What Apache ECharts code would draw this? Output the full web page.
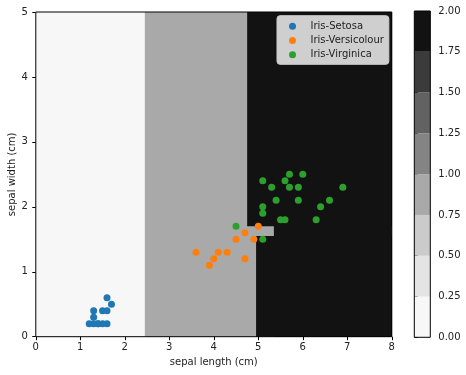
<!DOCTYPE html>
<html><head><meta charset="utf-8">
<script src="https://cdn.jsdelivr.net/npm/echarts@6/dist/echarts.min.js"></script>
<style>html,body{margin:0;padding:0;background:#fff}#c{width:466px;height:375px}</style>
</head><body><div id="c"></div>
<script>
// Decision regions: [x0, x1, y0, y1, class] (later rects drawn over earlier ones)
const regionX0 = [0, 2.45, 4.75, 4.95, 5.35];
const regionX1 = [2.45, 8, 8, 8, 8];
const regionY0 = [0, 0, 1.7, 0, 0];
const regionY1 = [5, 5, 5, 1.55, 5];
const regionClass = [0, 1, 2, 2, 2];

// colour levels (contour levels 0..2 step 0.25)
const levelEdges = [0, 0.25, 0.5, 0.75, 1.0, 1.25, 1.5, 1.75, 2.0];
const levelColors = ['#f7f7f7','#e4e4e4','#cbcbcb','#a9a9a9','#848484','#626262','#3b3b3b','#121212'];
const classColors = ['#f7f7f7', '#a9a9a9', '#121212'];

const setosa = [[1.6,0.6],[1.7,0.5],[1.3,0.4],[1.5,0.4],[1.6,0.4],[1.3,0.3],
  [1.2,0.2],[1.3,0.2],[1.4,0.2],[1.5,0.2],[1.6,0.2],[1.4,0.2]];
const versicolour = [[5.0,1.7],[4.7,1.6],[4.5,1.5],[4.9,1.5],[3.6,1.3],[4.1,1.3],
  [4.3,1.3],[4.0,1.2],[3.9,1.1],[4.7,1.2]];
const virginica = [[5.7,2.5],[6.0,2.5],[5.1,2.4],[5.6,2.4],[5.3,2.3],[5.7,2.3],[5.9,2.3],
  [6.9,2.3],[5.4,2.1],[5.9,2.1],[6.6,2.1],[6.4,2.0],[5.1,2.0],[5.1,1.9],[5.5,1.8],
  [5.6,1.8],[6.3,1.8],[4.5,1.7],[5.1,1.5]];

const seriesNames = ['Iris-Setosa','Iris-Versicolour','Iris-Virginica'];
const xLimits = [0, 8];
const yLimits = [0, 5];
const cbarLimits = [0, 2];
const xLabel = 'sepal length (cm)';
const yLabel = 'sepal width (cm)';

const FONT = 'DejaVu Sans';
const regionData = regionX0.map((x0, i) => [x0, regionX1[i], regionY0[i], regionY1[i], regionClass[i]]);
const levelData = levelColors.map((c, i) => [0, 1, levelEdges[i], levelEdges[i+1], i]);

function rectItem(params, api, fill, stroke) {
  const p0 = api.coord([api.value(0), api.value(2)]);
  const p1 = api.coord([api.value(1), api.value(3)]);
  return {
    type: 'rect',
    shape: {x: Math.min(p0[0], p1[0]), y: Math.min(p0[1], p1[1]),
            width: Math.abs(p1[0]-p0[0]), height: Math.abs(p1[1]-p0[1])},
    style: stroke ? {fill: 'none', stroke: stroke, lineWidth: 1} : {fill: fill, stroke: null}
  };
}

const chart = echarts.init(document.getElementById('c'), null, {renderer: 'canvas'});
const tickLabel = {color: '#222', fontSize: 10, fontFamily: FONT};
chart.setOption({
  animation: false,
  textStyle: {fontFamily: FONT},
  grid: [
    {left: 35.8, right: 74.2, top: 12, bottom: 38.3, containLabel: false, outerBoundsMode: 'none'},
    {left: 414.3, width: 16, top: 11, bottom: 37.7, containLabel: false, outerBoundsMode: 'none'}
  ],
  xAxis: [
    {type: 'value', gridIndex: 0, min: xLimits[0], max: xLimits[1], interval: 1,
     name: xLabel, nameLocation: 'middle', nameGap: 21, nameMoveOverlap: false,
     nameTextStyle: {color: '#222', fontSize: 10, fontFamily: FONT},
     axisLine: {show: false}, axisTick: {show: true, length: 3.5, lineStyle: {color: '#000'}},
     axisLabel: Object.assign({margin: 6}, tickLabel), splitLine: {show: false}},
    {type: 'value', gridIndex: 1, min: 0, max: 1, show: false}
  ],
  yAxis: [
    {type: 'value', gridIndex: 0, min: yLimits[0], max: yLimits[1], interval: 1,
     name: yLabel, nameLocation: 'middle', nameGap: 18, nameMoveOverlap: false,
     nameTextStyle: {color: '#222', fontSize: 10, fontFamily: FONT},
     axisLine: {show: false}, axisTick: {show: true, length: 3.5, lineStyle: {color: '#000'}},
     axisLabel: Object.assign({margin: 8}, tickLabel), splitLine: {show: false}},
    {type: 'value', gridIndex: 1, min: cbarLimits[0], max: cbarLimits[1], interval: 0.25, position: 'right',
     axisLine: {show: false}, axisTick: {show: true, length: 3.5, lineStyle: {color: '#000'}},
     axisLabel: Object.assign({margin: 8, formatter: v => v.toFixed(2)}, tickLabel),
     splitLine: {show: false}}
  ],
  legend: {
    data: seriesNames, orient: 'vertical', left: 277, top: 15.7,
    backgroundColor: 'rgba(255,255,255,0.8)', borderColor: '#cccccc', borderWidth: 1, borderRadius: 3,
    padding: [4, 5, 3, 12], itemWidth: 20, itemHeight: 7, itemGap: 1.3, icon: 'circle',
    textStyle: {fontSize: 10, color: '#222', fontFamily: FONT, lineHeight: 13, padding: [0,0,0,3]}
  },
  series: [
    {type: 'custom', name: 'regions', xAxisIndex: 0, yAxisIndex: 0, z: 1, silent: true,
     data: regionData, renderItem: (p, api) => rectItem(p, api, classColors[api.value(4)])},
    {type: 'custom', name: 'frame', xAxisIndex: 0, yAxisIndex: 0, z: 10, silent: true,
     data: [[xLimits[0], xLimits[1], yLimits[0], yLimits[1]]],
     renderItem: (p, api) => rectItem(p, api, null, '#000')},
    {type: 'scatter', name: seriesNames[0], data: setosa, symbolSize: 7, z: 5,
     itemStyle: {color: '#1f77b4', opacity: 1}},
    {type: 'scatter', name: seriesNames[1], data: versicolour, symbolSize: 7, z: 5,
     itemStyle: {color: '#ff7f0e', opacity: 1}},
    {type: 'scatter', name: seriesNames[2], data: virginica, symbolSize: 7, z: 5,
     itemStyle: {color: '#2ca02c', opacity: 1}},
    {type: 'custom', name: 'cbar', xAxisIndex: 1, yAxisIndex: 1, z: 1, silent: true,
     data: levelData, renderItem: (p, api) => rectItem(p, api, levelColors[api.value(4)])},
    {type: 'custom', name: 'cbarFrame', xAxisIndex: 1, yAxisIndex: 1, z: 10, silent: true,
     data: [[0, 1, cbarLimits[0], cbarLimits[1]]],
     renderItem: (p, api) => rectItem(p, api, null, '#000')}
  ]
});
</script></body></html>
